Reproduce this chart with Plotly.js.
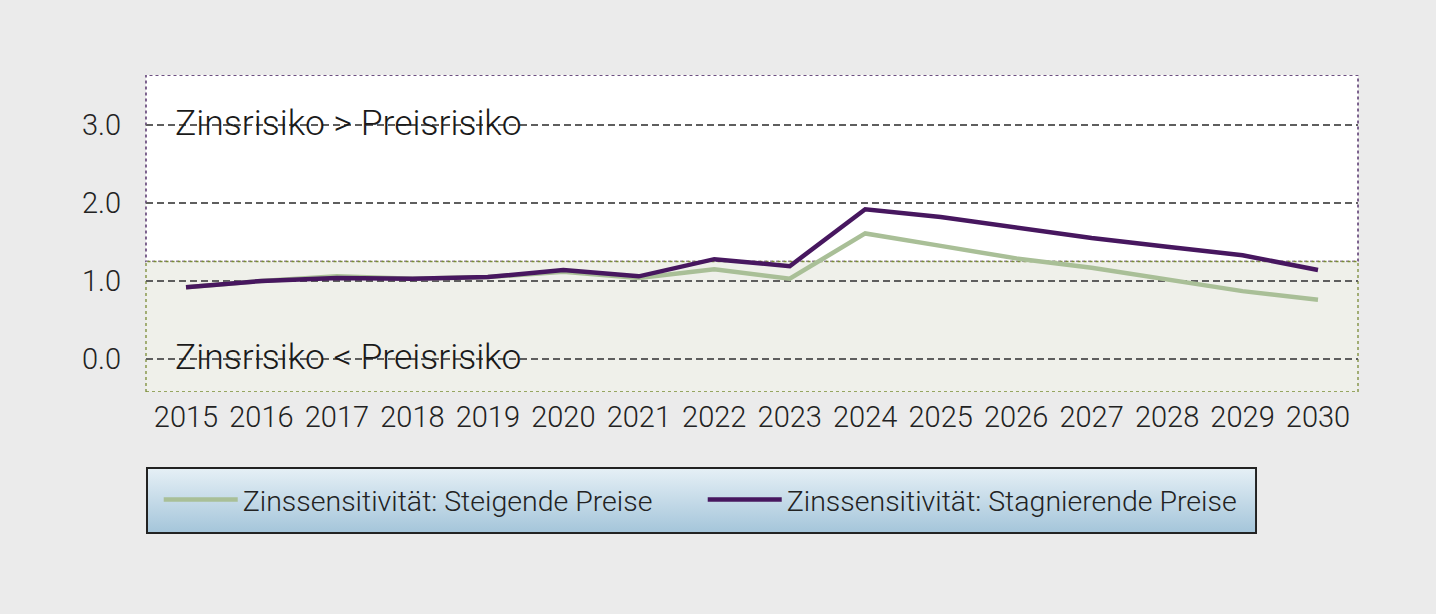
<!DOCTYPE html>
<html>
<head>
<meta charset="utf-8">
<script src="https://cdn.plot.ly/plotly-3.0.1.min.js"></script>
<style>
	html, body { margin: 0; padding: 0; background: #ebebeb; }
	#plot { width: 1436px; height: 614px; }
</style>
</head>
<body>
<div id="plot"></div>
<script>
const years = [2015, 2016, 2017, 2018, 2019, 2020, 2021, 2022, 2023, 2024, 2025, 2026, 2027, 2028, 2029, 2030];
const steigende = [0.92, 1.0, 1.06, 1.03, 1.05, 1.12, 1.04, 1.15, 1.03, 1.61, 1.45, 1.29, 1.17, 1.02, 0.87, 0.76];
const stagnierende = [0.92, 1.0, 1.04, 1.03, 1.05, 1.14, 1.06, 1.28, 1.19, 1.92, 1.82, 1.68, 1.55, 1.44, 1.33, 1.14];
const seriesNames = ["Zinssensitivität: Steigende Preise", "Zinssensitivität: Stagnierende Preise"];
const yTicks = [0, 1, 2, 3];
const threshold = 1.25;
const zoneLabels = ["Zinsrisiko > Preisrisiko", "Zinsrisiko < Preisrisiko"];

const fontFamily = "Roboto, 'Liberation Sans', sans-serif";
const yRange = [-0.423, 3.641];

const legendBg = `<svg xmlns='http://www.w3.org/2000/svg' width='1111' height='67'>
	<defs><linearGradient id='g' x1='0' y1='0' x2='0' y2='1'>
		<stop offset='0' stop-color='#e6f0f6'/><stop offset='1' stop-color='#a4c5da'/>
	</linearGradient></defs>
	<rect x='1' y='1' width='1109' height='65' fill='url(#g)' stroke='#222' stroke-width='2'/>
</svg>`;

const traces = [
	{
		x: years,
		y: steigende,
		type: "scatter",
		mode: "lines",
		name: seriesNames[0],
		line: { color: "#a9bf97", width: 4.5 },
	},
	{
		x: years,
		y: stagnierende,
		type: "scatter",
		mode: "lines",
		name: seriesNames[1],
		line: { color: "#47175f", width: 4.5 },
	},
];

const layout = {
	width: 1436,
	height: 614,
	margin: { l: 146, r: 78, t: 75, b: 222 },
	paper_bgcolor: "#ebebeb",
	plot_bgcolor: "#ffffff",
	font: { family: fontFamily, color: "#222", size: 29, weight: 300 },
	showlegend: true,
	legend: {
		orientation: "h",
		x: 0.0105,
		xanchor: "left",
		y: -0.341,
		yanchor: "middle",
		bgcolor: "rgba(0,0,0,0)",
		borderwidth: 0,
		itemwidth: 74,
		entrywidth: 455,
		font: { family: fontFamily, size: 28.5, color: "#222", weight: 300 },
	},
	xaxis: {
		type: "linear",
		range: [2014.47, 2030.53],
		tickvals: years,
		ticktext: years.map(String),
		showgrid: false,
		zeroline: false,
		showline: false,
		ticks: "",
		ticklabelstandoff: 5,
		tickfont: { family: fontFamily, size: 29, color: "#222", weight: 300 },
	},
	yaxis: {
		range: yRange,
		tickvals: yTicks,
		tickformat: ".1f",
		showgrid: true,
		gridcolor: "#5e5e5e",
		gridwidth: 1.5,
		griddash: "7px,4px",
		zeroline: false,
		showline: false,
		ticks: "",
		ticklabelstandoff: 24,
		tickfont: { family: fontFamily, size: 29, color: "#222", weight: 300 },
	},
	shapes: [
		{
			type: "rect",
			layer: "below",
			xref: "paper",
			yref: "y",
			x0: 0,
			x1: 1,
			y0: threshold,
			y1: yRange[1],
			fillcolor: "#ffffff",
			line: { color: "#3d1658", width: 1.3, dash: "dot" },
		},
		{
			type: "rect",
			layer: "below",
			xref: "paper",
			yref: "y",
			x0: 0,
			x1: 1,
			y0: yRange[0],
			y1: threshold,
			fillcolor: "#eff0ea",
			line: { color: "#7a8c36", width: 1.3, dash: "dot" },
		},
	],
	annotations: [
		{
			text: zoneLabels[0],
			x: 2014.83,
			y: 3.03,
			xref: "x",
			yref: "y",
			xanchor: "left",
			yanchor: "middle",
			showarrow: false,
			font: { family: fontFamily, size: 35.5, color: "#1a1a1a", weight: 300 },
		},
		{
			text: zoneLabels[1],
			x: 2014.83,
			y: 0.02,
			xref: "x",
			yref: "y",
			xanchor: "left",
			yanchor: "middle",
			showarrow: false,
			font: { family: fontFamily, size: 35.5, color: "#1a1a1a", weight: 300 },
		},
	],
	images: [
		{
			source: "data:image/svg+xml;charset=utf-8," + encodeURIComponent(legendBg),
			xref: "paper",
			yref: "paper",
			x: 0,
			y: -0.2366,
			sizex: 0.9167,
			sizey: 0.2114,
			xanchor: "left",
			yanchor: "top",
			sizing: "stretch",
			layer: "below",
		},
	],
};

Plotly.newPlot("plot", traces, layout, { displayModeBar: false, staticPlot: true });
</script>
</body>
</html>
